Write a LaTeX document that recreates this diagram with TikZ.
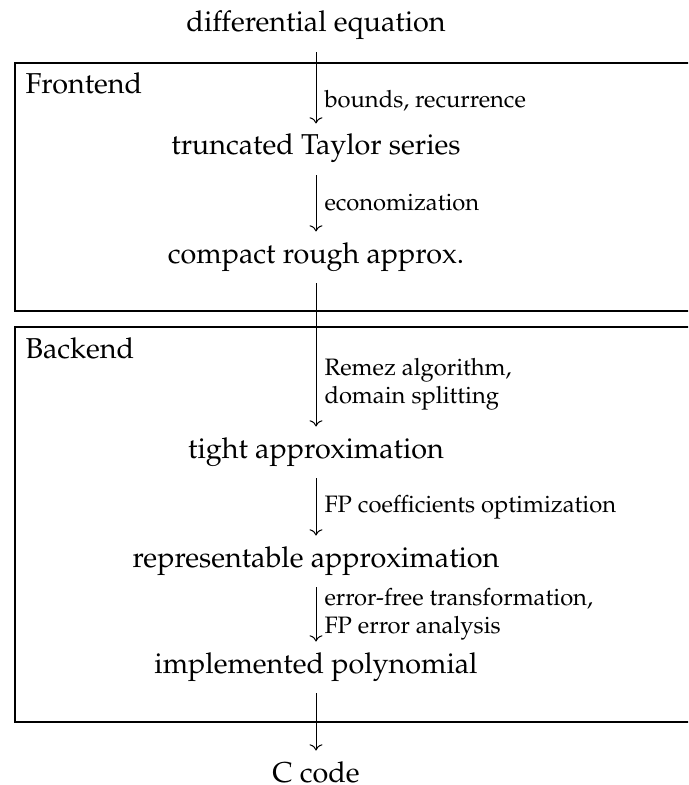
\documentclass[tikz,border=0pt]{standalone}
\usepackage[T1]{fontenc}
\usepackage{mathpazo}
\usetikzlibrary{arrows.meta}

\tikzset{
  stage/.style={anchor=base, inner sep=0pt, text height=8.2pt, text depth=2.5pt,
                font=\fontsize{11.5}{14}\selectfont},
  steplabel/.style={anchor=base west, inner sep=0pt, align=left,
                font=\fontsize{9.5}{11.2}\selectfont},
  grouptitle/.style={anchor=base west, inner sep=0pt, font=\fontsize{11.5}{14}\selectfont},
  groupbox/.style={draw, line width=0.5pt},
  flow/.style={->, line width=0.4pt, shorten <=5.4pt, shorten >=4.2pt},
}

\begin{document}
\begin{tikzpicture}[x=0.4pt, y=-0.4pt]
  \useasboundingbox (0,0) rectangle (688,785);
  \clip (0,0) rectangle (688,785);

  % the two processing stages
  \draw[groupbox] (15,63) rectangle (720,311);
  \draw[groupbox] (15,327) rectangle (720,722);
  \node[grouptitle] (fe) at (25,94) {Frontend};
  \node[grouptitle] (be) at (25,358) {Backend};

  % pipeline steps
  \node[stage] (de)   at (316,32)  {differential equation};
  \node[stage] (tts)  at (316,155) {truncated Taylor series};
  \node[stage] (cra)  at (316,263) {compact rough approx.};
  \node[stage] (ta)   at (316,458) {tight approximation};
  \node[stage] (ra)   at (316,567) {representable approximation};
  \node[stage] (ip)   at (316,673) {implemented polynomial};
  \node[stage] (cc)   at (316,782) {C code};

  % transitions
  \draw[flow] (de)  -- (tts);
  \draw[flow] (tts) -- (cra);
  \draw[flow] (cra) -- (ta);
  \draw[flow] (ta)  -- (ra);
  \draw[flow] (ra)  -- (ip);
  \draw[flow] (ip)  -- (cc);

  % transition labels (two-line labels sit on the baseline of their last line)
  \node[steplabel] (l1) at (324,108) {bounds, recurrence};
  \node[steplabel] (l2) at (324,211) {economization};
  \node[steplabel] (l3) at (324,403) {Remez algorithm,\\domain splitting};
  \node[steplabel] (l4) at (324,512) {FP coefficients optimization};
  \node[steplabel] (l5) at (324,633) {error-free transformation,\\FP error analysis};
\end{tikzpicture}
\end{document}
